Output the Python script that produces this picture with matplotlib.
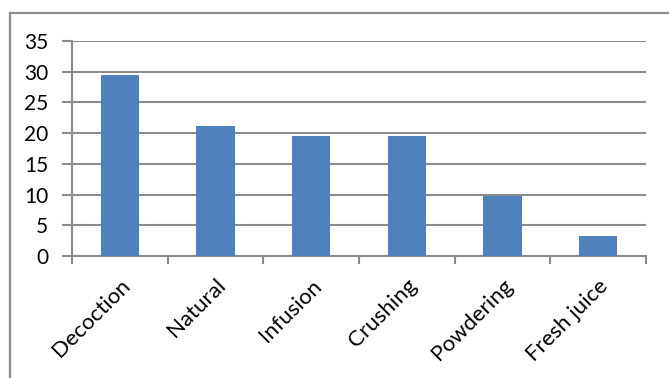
import numpy as np
from matplotlib import pyplot as plt
from matplotlib.lines import Line2D

categories = ['Decoction', 'Natural', 'Infusion', 'Crushing', 'Powdering', 'Fresh juice']
values = [29.4, 21.2, 19.5, 19.5, 9.8, 3.2]
y_ticks = [0, 5, 10, 15, 20, 25, 30, 35]

plt.rcParams['font.family'] = ['Lato', 'DejaVu Sans']

fig = plt.figure(figsize=(6.69, 3.78), dpi=100)
ax = fig.add_axes([0.1076, 0.3228, 0.858, 0.5687])

x = np.arange(len(categories))
ax.bar(x, values, width=0.4, color='#4f81bd', zorder=3)

ax.set_xlim(-0.5, len(categories) - 0.5)
ax.set_ylim(0, 35)
ax.set_yticks(y_ticks)
ax.set_yticklabels([str(v) for v in y_ticks], fontsize=15)
ax.yaxis.grid(True, color='#8c8c8c', linewidth=1.5, zorder=0)

ax.set_xticks(np.arange(-0.5, len(categories)), minor=False)
ax.set_xticklabels([])
ax.set_xticks(x, minor=True)
ax.set_xticklabels(categories, minor=True, rotation=45, ha='right',
                   rotation_mode='anchor', fontsize=16)
ax.tick_params(axis='x', which='minor', length=0, pad=14)
ax.tick_params(axis='x', which='major', length=6, width=1.5, color='#8c8c8c')
ax.tick_params(axis='y', length=7, width=1.5, color='#8c8c8c', pad=10)

for side in ['top', 'right']:
    ax.spines[side].set_visible(False)
for side in ['left', 'bottom']:
    ax.spines[side].set_color('#8c8c8c')
    ax.spines[side].set_linewidth(1.5)

# outer chart border (top and left visible)
fig.add_artist(Line2D([0.015, 1.0], [0.9656, 0.9656], color='#8c8c8c', linewidth=1.6))
fig.add_artist(Line2D([0.015, 0.015], [0.0, 0.9656], color='#8c8c8c', linewidth=1.6))

fig.savefig('out.png', dpi=100)
